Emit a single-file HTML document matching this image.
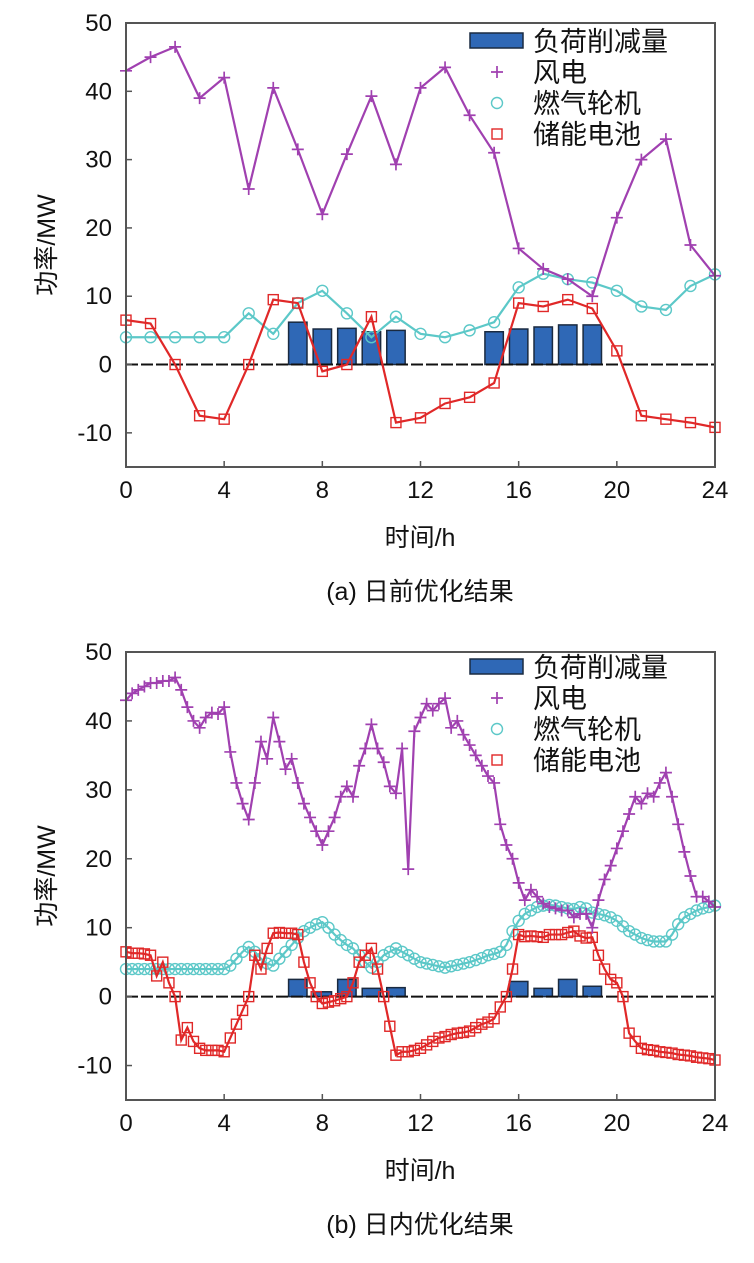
<!DOCTYPE html>
<html><head><meta charset="utf-8"><style>
html,body{margin:0;padding:0;background:#fff;}
svg text{font-family:"Liberation Sans","Noto Sans CJK SC",sans-serif;fill:#111;}
</style></head><body>
<svg id="chart" width="754" height="1258" viewBox="0 0 754 1258" xmlns="http://www.w3.org/2000/svg"></svg>
<script>
// Panel (a) day-ahead data (hourly)
const hoursA = [0,1,2,3,4,5,6,7,8,9,10,11,12,13,14,15,16,17,18,19,20,21,22,23,24];
const windA = [43,45,46.5,39,42,25.7,40.5,31.5,22,30.8,39.3,29.3,40.5,43.5,36.5,31,17,14,12.5,10,21.5,30,33,17.5,13];
const gasA = [4,4,4,4,4,7.5,4.5,9,10.8,7.5,4,7,4.5,4,5,6.2,11.3,13.3,12.5,12,10.8,8.5,8,11.5,13.2];
const batA = [6.5,6,0,-7.5,-8,0,9.5,9,-1,0,7,-8.5,-7.8,-5.7,-4.8,-2.7,9,8.5,9.5,8.2,2,-7.5,-8,-8.5,-9.2];
const cutHoursA = [7,8,9,10,11,15,16,17,18,19];
const cutA = [6.2,5.2,5.3,4.8,5.0,4.8,5.2,5.5,5.8,5.8];
// Panel (b) intra-day data (15-min, t = i*0.25)
const windB = [43,44,44.5,45,45.5,45.5,45.8,45.8,46.3,44.5,42,40,39,40.5,41.2,41,42,35.5,31,28,25.7,31,37,34.5,40.5,37,33,34.5,31,28,26,24,22,24,26,29,30.5,29,33.5,36,39.5,36,34,30.5,29.5,36,18.5,38.5,40.5,42.5,41.5,42.5,43.3,39,40,38,36.5,35,33.5,32,31,25,22,20,16.5,14,15.5,14.5,13.5,13,12.8,12.5,12.5,11.5,12,12,10,14,17,19,21.5,24,26.5,29,28,29.5,29,31,32.5,29,25,21,17.5,14.5,14.5,13.8,13];
const gasB = [4,4,4,4,4,4,4,4,4,4,4,4,4,4,4,4,4,4.5,5.5,6.5,7.2,6.5,5.5,4.8,4.5,5.5,6.5,7.5,8.5,9.5,10,10.5,10.8,10,9,8.2,7.5,7,6,5,4.2,5,6,6.5,7,6.5,6,5.5,5,4.8,4.6,4.4,4.2,4.4,4.6,4.8,5,5.3,5.6,6,6.2,6.5,7.5,9.5,11,12,12.5,13,13.2,13.3,13.2,13,12.8,12.7,13,12.8,12.2,12,11.8,11.5,11,10.2,9.5,9,8.5,8.2,8,8,8,9,10.5,11.5,12,12.5,12.8,13,13.2];
const batB = [6.5,6.3,6.3,6.2,6,3,5,2,0,-6.3,-4.5,-6.5,-7.5,-7.8,-7.8,-7.8,-8,-6,-4,-2,0,6,4,7,9.2,9.3,9.2,9.2,9,5,2,0,-1,-0.8,-0.6,-0.3,0,2,5,6,7,4,0,-4.3,-8.5,-8,-8,-7.8,-7.5,-7,-6.5,-6,-5.8,-5.5,-5.3,-5.2,-5,-4.5,-4,-3.7,-3.2,-1.5,0,4,9,8.7,8.8,8.7,8.6,9,9,9,9.3,9.5,8.8,8.5,8.6,6,4,2.5,2,0,-5.3,-6.5,-7.5,-7.7,-7.8,-8,-8.1,-8.2,-8.4,-8.5,-8.6,-8.8,-8.9,-9,-9.2];
const cutHoursB = [7,8,9,10,11,16,17,18,19];
const cutB = [2.5,0.7,2.5,1.2,1.3,2.2,1.2,2.5,1.5];
const xTicks = [0,4,8,12,16,20,24];
const yTicks = [-10,0,10,20,30,40,50];
const legendLabels = ['负荷削减量','风电','燃气轮机','储能电池'];

const NS='http://www.w3.org/2000/svg';
const svg=document.getElementById('chart');
function mk(tag,attrs,parent){const e=document.createElementNS(NS,tag);for(const k in attrs)e.setAttribute(k,attrs[k]);(parent||svg).appendChild(e);return e;}

function panel(cfg){
  const g=mk('g',{});
  
  
  const L=126,R=715,T=cfg.top,B=cfg.bottom;
  const sx=v=>L+(v/24)*(R-L);
  const sy=v=>B-(v+15)/65*(B-T);
  const bw=0.75*(R-L)/24;
  cfg.cutHours.forEach((h,i)=>{
    const r=mk('rect',{x:sx(h)-bw/2,y:sy(cfg.cut[i]),width:bw,height:sy(0)-sy(cfg.cut[i]),fill:'#2f68b6',stroke:'#1a2a40','stroke-width':1.5},g);
    
    
  });
  const z=mk('line',{x1:L,x2:R,y1:sy(0),y2:sy(0),stroke:'#111','stroke-width':2,'stroke-dasharray':'12,3'},g);
  
  
  const xs=cfg.step?cfg.wind.map((_,i)=>i*cfg.step):cfg.hours;
  function series(vals,color,marker,name){
    const sg=mk('g',{},g);
    
    
    mk('polyline',{points:vals.map((v,i)=>sx(xs[i])+','+sy(v)).join(' '),fill:'none',stroke:color,'stroke-width':2.2},sg);
    vals.forEach((v,i)=>{
      const x=sx(xs[i]),y=sy(v);
      if(marker==='plus'){mk('path',{d:`M${x-6},${y}H${x+6}M${x},${y-6}V${y+6}`,stroke:color,'stroke-width':1.7},sg);}
      else if(marker==='circle'){mk('circle',{cx:x,cy:y,r:5.5,fill:'none',stroke:color,'stroke-width':1.4},sg);}
      else {mk('rect',{x:x-5,y:y-5,width:10,height:10,fill:'none',stroke:color,'stroke-width':1.4},sg);}
    });
  }
  series(cfg.gas,'#5cc8c8','circle','gas-turbine-series');
  series(cfg.bat,'#e02828','square','battery-series');
  series(cfg.wind,'#a040b0','plus','wind-series');
  const f=mk('rect',{x:L,y:T,width:R-L,height:B-T,fill:'none',stroke:'#555','stroke-width':2},g);
  
  
  xTicks.forEach(t=>{
    mk('line',{x1:sx(t),x2:sx(t),y1:B,y2:B-6,stroke:'#555','stroke-width':1.5},g);
    const tx=mk('text',{x:sx(t),y:B+31,'text-anchor':'middle','font-size':24},g);
    tx.textContent=t;
    
    
  });
  yTicks.forEach(t=>{
    mk('line',{x1:L,x2:L+6,y1:sy(t),y2:sy(t),stroke:'#555','stroke-width':1.5},g);
    const tx=mk('text',{x:112,y:sy(t)+8,'text-anchor':'end','font-size':24},g);
    tx.textContent=t;
    
    
  });
  const yl=mk('text',{x:0,y:0,'text-anchor':'middle','font-size':25,transform:`translate(55,${(T+B)/2}) rotate(-90)`},g);
  yl.textContent='功率/MW';
  
  
  const xl=mk('text',{x:420,y:B+79,'text-anchor':'middle','font-size':25},g);
  xl.textContent='时间/h';
  
  
  const cap=mk('text',{x:420,y:B+133,'text-anchor':'middle','font-size':25},g);
  cap.textContent=cfg.caption;
  
  
  const lg=mk('g',{},g);
  
  
  const ly=cfg.legendY;
  legendLabels.forEach((lab,i)=>{
    const y=ly+i*31;
    const mx=497;
    if(i===0)mk('rect',{x:470,y:y-8,width:53,height:15,fill:'#2f68b6',stroke:'#1a2a40','stroke-width':1.5},lg);
    else if(i===1)mk('path',{d:`M${mx-6},${y}H${mx+6}M${mx},${y-6}V${y+6}`,stroke:'#a040b0','stroke-width':1.7},lg);
    else if(i===2)mk('circle',{cx:mx,cy:y,r:5.5,fill:'none',stroke:'#5cc8c8','stroke-width':1.4},lg);
    else mk('rect',{x:mx-5,y:y-5,width:10,height:10,fill:'none',stroke:'#e02828','stroke-width':1.4},lg);
    const t=mk('text',{x:533,y:y+10,'font-size':27},lg);
    t.textContent=lab;
    
    
  });
}
panel({name:'panel-a',top:23,bottom:467,hours:hoursA,wind:windA,gas:gasA,bat:batA,cutHours:cutHoursA,cut:cutA,caption:'(a) 日前优化结果',legendY:41});
panel({name:'panel-b',top:652,bottom:1100,step:0.25,wind:windB,gas:gasB,bat:batB,cutHours:cutHoursB,cut:cutB,caption:'(b) 日内优化结果',legendY:667});
</script>
</body></html>
